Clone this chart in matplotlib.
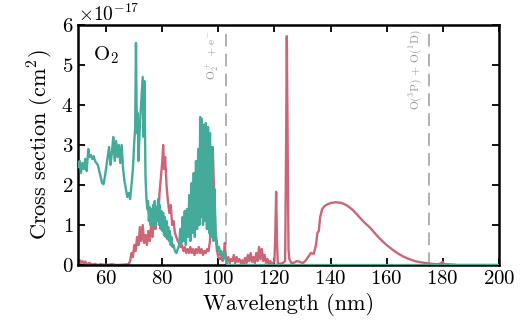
import numpy as np
import matplotlib.pyplot as plt
from matplotlib.ticker import ScalarFormatter

plt.rcParams['font.family'] = 'serif'
plt.rcParams['font.serif'] = ['cmr10']
plt.rcParams['mathtext.fontset'] = 'cm'
plt.rcParams['axes.formatter.use_mathtext'] = True

# ionisation cross section (1e-17 cm^2)
ion_wl = [50.0, 50.5, 51.0, 51.5, 52.0, 52.5, 53.0, 53.6, 54.0, 54.5, 55.0, 55.5, 56.0, 56.5,
          57.0, 57.5, 58.0, 58.5, 59.0, 59.5, 60.0, 60.5, 61.0, 61.5, 62.0, 62.5, 63.0, 63.5,
          64.0, 64.5, 65.0, 65.5, 66.0, 66.5, 67.0, 67.5, 68.0, 68.5, 69.0, 69.5, 70.0, 70.3,
          70.6, 70.9, 71.2, 71.5, 72.0, 72.5, 73.0, 73.3, 73.6, 74.0, 74.3, 74.6, 74.9, 75.2,
          75.5, 75.8, 76.1, 76.4, 76.7, 77.0, 77.3, 77.6, 77.9, 78.2, 78.5, 78.8, 79.1, 79.4,
          79.7, 80.0, 80.3, 80.6, 80.9, 81.2, 81.5, 81.8, 82.1, 82.4, 82.7, 83.0, 83.3, 83.6,
          84.0, 84.5, 85.0, 85.5, 86.0, 86.4, 86.8, 87.2, 87.6, 88.0, 88.4, 88.8, 89.2,
          89.6, 90.0, 90.4, 90.8, 91.2, 91.6, 92.0, 92.4, 92.8, 93.2, 93.5, 93.8, 94.1, 94.5,
          94.8, 95.2, 95.5, 95.9, 96.3, 96.7, 97.0, 97.4, 97.8, 98.2, 98.6, 99.0, 99.4, 99.8,
          100.2, 100.6, 101.0, 101.5, 102.0, 102.5, 103.0, 103.2, 200.0]
ion_xs = [2.45, 2.6, 2.3, 2.55, 2.4, 2.65, 2.35, 2.9, 2.7, 2.75, 2.65, 2.72, 2.6, 2.55,
          2.5, 2.35, 2.2, 2.05, 2.02, 2.2, 2.45, 2.7, 2.95, 2.5, 2.8, 3.2, 2.6, 3.1,
          2.7, 3.0, 2.55, 3.0, 2.4, 2.1, 1.9, 1.7, 1.8, 1.65, 2.0, 2.4, 3.1, 3.4,
          5.55, 3.3, 3.8, 2.6, 3.5, 4.1, 4.7, 3.2, 4.6, 2.2, 1.7, 1.4, 1.6, 1.1,
          1.45, 1.0, 1.4, 0.95, 1.5, 1.1, 1.6, 1.0, 1.45, 1.2, 1.65, 1.0, 1.5, 0.9,
          1.35, 0.85, 1.3, 0.75, 1.2, 0.7, 1.1, 0.65, 0.95, 0.6, 0.85, 0.5, 0.7, 0.45,
          0.5, 0.35, 0.3, 0.4, 0.5, 0.9, 0.55, 1.2, 0.6, 1.35, 0.5, 1.4, 0.7,
          1.75, 0.6, 2.05, 0.8, 2.3, 0.7, 2.6, 0.9, 2.9, 1.0, 3.7, 1.2, 3.65, 1.0,
          3.5, 1.1, 3.55, 0.9, 3.45, 0.8, 3.3, 0.7, 2.95, 0.6, 1.9, 0.8, 0.6, 0.35,
          0.45, 0.25, 0.35, 0.2, 0.3, 0.15, 0.05, 0.0, 0.0]

# dissociation cross section (1e-17 cm^2)
dis_wl = [50.0, 50.5, 51.0, 51.5, 52.0, 52.5, 53.0, 54.0, 55.0, 56.0, 57.0, 58.0, 60.0, 62.0,
          64.0, 66.0, 68.0, 68.5, 69.0, 69.5, 70.0, 70.5, 71.0, 71.5, 72.0, 72.5, 73.0, 73.5,
          74.0, 74.5, 75.0, 75.5, 76.0, 76.5, 77.0, 77.5, 78.0, 78.5, 79.0, 79.5, 80.0, 80.3,
          80.6, 81.0, 81.5, 82.0, 82.5, 83.0, 83.5, 84.0, 84.5, 85.0, 85.5, 86.0, 86.5, 87.0,
          87.5, 88.0, 88.5, 89.0, 89.5, 90.0, 90.5, 91.0, 91.5, 92.0, 92.5, 93.0, 93.5, 94.0,
          94.5, 95.0, 95.5, 96.0, 96.5, 97.0, 97.3, 97.6, 98.0, 98.3, 98.6, 99.0, 99.5, 100.0,
          100.5, 101.0, 101.5, 102.0, 102.3, 102.6, 103.0, 103.5, 104.0, 104.5, 105.0, 105.5,
          106.0, 106.5, 107.0, 107.5, 108.0, 108.5, 109.0, 109.5, 110.0, 110.5, 111.0, 111.5,
          112.0, 112.5, 113.0, 113.5, 114.0, 114.5, 115.0, 115.5, 116.0, 116.5, 117.0, 117.5,
          118.0, 118.5, 119.0, 119.5, 120.0, 120.3, 120.6, 120.9, 121.2, 122.0, 123.0, 123.8,
          124.1, 124.4, 124.7, 125.0, 125.3, 126.0, 127.0, 128.0, 129.0, 130.0, 131.0, 132.0,
          133.0, 134.0, 134.8, 135.3, 135.8, 136.3, 137.0, 138.0, 139.0, 140.0, 141.0, 142.0,
          143.0, 144.0, 145.0, 146.0, 147.0, 148.0, 150.0, 152.0, 154.0, 156.0, 158.0, 160.0,
          162.0, 164.0, 166.0, 168.0, 170.0, 172.0, 174.0, 176.0, 178.0, 179.0, 180.0, 180.5,
          182.0, 184.0, 185.0, 200.0]
dis_xs = [0.08, 0.12, 0.05, 0.1, 0.04, 0.09, 0.02, 0.05, 0.01, 0.03, 0.0, 0.02, 0.0, 0.02,
          0.0, 0.01, 0.02, 0.1, 0.3, 0.2, 0.5, 0.35, 0.7, 0.5, 0.95, 0.6, 1.0, 0.55,
          0.75, 0.5, 0.85, 0.6, 1.0, 0.7, 1.2, 0.9, 1.4, 1.1, 1.8, 2.2, 2.6, 3.0,
          2.4, 2.7, 2.0, 1.6, 1.3, 1.5, 1.0, 1.1, 0.8, 0.7, 0.6, 0.55, 0.45, 0.5,
          0.35, 0.45, 0.3, 0.4, 0.3, 0.45, 0.3, 0.4, 0.25, 0.4, 0.3, 0.45, 0.3, 0.4,
          0.25, 0.35, 0.3, 0.4, 0.35, 0.6, 1.2, 2.3, 2.95, 2.2, 1.6, 0.7, 0.35, 0.2,
          0.15, 0.2, 0.1, 0.3, 0.55, 0.2, 0.1, 0.2, 0.05, 0.15, 0.1, 0.25,
          0.05, 0.2, 0.08, 0.15, 0.05, 0.12, 0.03, 0.18, 0.05, 0.25, 0.1, 0.3,
          0.08, 0.2, 0.05, 0.3, 0.1, 0.45, 0.15, 0.4, 0.1, 0.25, 0.05, 0.15,
          0.03, 0.1, 0.02, 0.05, 0.1, 0.8, 1.83, 0.6, 0.05, 0.03, 0.05, 0.1,
          2.5, 5.72, 3.0, 0.4, 0.15, 0.05, 0.06, 0.1, 0.08, 0.05, 0.1, 0.2,
          0.3, 0.28, 0.5, 0.8, 0.85, 1.2, 1.4, 1.48, 1.52, 1.55, 1.56, 1.57,
          1.56, 1.55, 1.52, 1.48, 1.43, 1.37, 1.22, 1.07, 0.94, 0.78, 0.63, 0.5,
          0.39, 0.29, 0.21, 0.15, 0.1, 0.07, 0.05, 0.03, 0.02, 0.03, 0.08, 0.02,
          0.02, 0.01, 0.0, 0.0]

thresholds = [102.7, 175.0]
threshold_labels = [r'O$_2^+$ + e$^-$', r'O($^3$P) + O($^1$D)']

fig = plt.figure(figsize=(5.25, 3.24), dpi=100)
ax = fig.add_axes([0.149, 0.182, 0.801, 0.741])

ax.plot(dis_wl, np.array(dis_xs) * 1e-17, color='#CC6677', lw=1.7, zorder=2)
ax.plot(ion_wl, np.array(ion_xs) * 1e-17, color='#44AA99', lw=1.7, zorder=3)

for wl, lab in zip(thresholds, threshold_labels):
    ax.axvline(wl, color='#aaaaaa', ls=(0, (7, 4)), lw=1.3, zorder=1)
    ax.text(wl - 1.3, 5.88e-17, lab, rotation=90, ha='right', va='top',
            color='#999999', fontsize=8.3)

ax.text(0.035, 0.92, r'O$_2$', transform=ax.transAxes, fontsize=15, va='top')

ax.set_xlim(50, 200)
ax.set_ylim(0, 6e-17)
ax.set_xticks([60, 80, 100, 120, 140, 160, 180, 200])
ax.set_yticks(np.arange(0, 7) * 1e-17)
fmt = ScalarFormatter(useMathText=True)
fmt.set_powerlimits((0, 0))
ax.yaxis.set_major_formatter(fmt)
ax.yaxis.get_offset_text().set_fontsize(14)

ax.tick_params(direction='in', top=True, right=True, length=5, width=1.3, labelsize=15)
for s in ax.spines.values():
    s.set_linewidth(1.8)

ax.set_xlabel('Wavelength (nm)', fontsize=16)
ax.set_ylabel(r'Cross section (cm$^2$)', fontsize=16)

fig.savefig('out.png', dpi=100)
